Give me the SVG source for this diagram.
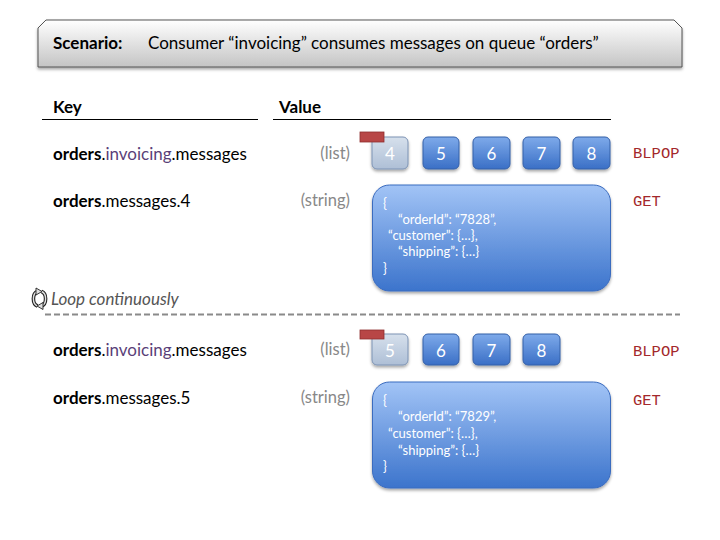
<svg xmlns="http://www.w3.org/2000/svg" width="720" height="540" viewBox="0 0 720 540">
<defs>
<linearGradient id="gHead" x1="0" y1="0" x2="0" y2="1"><stop offset="0" stop-color="#ffffff"/><stop offset="1" stop-color="#c4c4c4"/></linearGradient>
<linearGradient id="gItem" x1="0" y1="0" x2="0" y2="1"><stop offset="0" stop-color="#7eaaea"/><stop offset="1" stop-color="#3a6fc6"/></linearGradient>
<linearGradient id="gDone" x1="0" y1="0" x2="0" y2="1"><stop offset="0" stop-color="#d6e0ec"/><stop offset="1" stop-color="#aebfd6"/></linearGradient>
<linearGradient id="gStr" x1="0" y1="0" x2="0" y2="1"><stop offset="0" stop-color="#a2c4f6"/><stop offset="1" stop-color="#3c74cc"/></linearGradient>
<filter id="sh" x="-10%" y="-10%" width="130%" height="140%"><feDropShadow dx="0" dy="2" stdDeviation="1.5" flood-color="#000" flood-opacity="0.35"/></filter>
</defs>
<style>
text{font-family:Lato,"Liberation Sans",sans-serif}
.k{font-size:17px;fill:#000}
.b{font-weight:bold}
.pur{fill:#5a3f78}
.t{font-size:16.5px;fill:#888;text-anchor:end}
.cmd{font-family:"Liberation Mono","DejaVu Sans Mono",monospace;font-size:15.5px;fill:#a3282b}
.item{fill:url(#gItem);stroke:#3560a8;stroke-width:1;filter:url(#sh)}
.done{fill:url(#gDone);stroke:#7d93b4;stroke-width:1;filter:url(#sh)}
.num{font-size:17px;fill:#fff;text-anchor:middle}
.str{fill:url(#gStr);stroke:#3b6cbf;stroke-width:1;filter:url(#sh)}
.js{font-size:13px;fill:#fff}
.tab{fill:#b84646;stroke:#8e2e2e;stroke-width:0.8}
.hl{stroke:#000;stroke-width:1.2}
</style>
<g id="scenario">
<path d="M46,20 L674,20 L682,28 L682,67 L38,67 L38,28 Z" fill="url(#gHead)" stroke="#555" stroke-width="1" filter="url(#sh)"/>
<text x="53" y="49" class="k b">Scenario:</text>
<text x="148" y="49" class="k">Consumer “invoicing” consumes messages on queue “orders”</text>
</g>
<g id="headers">
<text x="53" y="113" class="k b">Key</text>
<line x1="42" y1="119.5" x2="258" y2="119.5" class="hl"/>
<text x="279" y="113" class="k b">Value</text>
<line x1="273" y1="119.5" x2="611" y2="119.5" class="hl"/>
</g>
<g id="row1-list">
<text x="53" y="160" class="k"><tspan class="b">orders</tspan>.<tspan class="pur">invoicing</tspan>.messages</text>
<text x="350" y="159" class="t">(list)</text>
<rect x="372" y="137" width="36" height="32" rx="5" class="done"/><text x="390" y="160" class="num">4</text>
<rect x="423" y="137" width="36" height="32" rx="5" class="item"/><text x="441" y="160" class="num">5</text>
<rect x="473" y="137" width="37" height="32" rx="5" class="item"/><text x="491.5" y="160" class="num">6</text>
<rect x="523" y="137" width="37" height="32" rx="5" class="item"/><text x="541.5" y="160" class="num">7</text>
<rect x="573" y="137" width="37" height="32" rx="5" class="item"/><text x="591.5" y="160" class="num">8</text>
<rect x="360" y="132" width="24" height="10" class="tab"/>
<text x="633" y="158" class="cmd">BLPOP</text>
</g>
<g id="row1-string">
<text x="53" y="207" class="k"><tspan class="b">orders</tspan>.messages.4</text>
<text x="350" y="206" class="t">(string)</text>
<rect x="372.5" y="185" width="238" height="106" rx="17" class="str"/>
<text x="383" y="208" class="js">{</text>
<text x="398" y="224" class="js">“orderId”: “7828”,</text>
<text x="388" y="240" class="js">“customer”: {…},</text>
<text x="398" y="256" class="js">“shipping”: {…}</text>
<text x="383" y="273" class="js">}</text>
<text x="633" y="206" class="cmd">GET</text>
</g>
<g id="loop">
<g fill="none" stroke-linecap="butt">
<path d="M37.5,291.5 A5.5,7.5 0 0 0 37.5,306" stroke="#222" stroke-width="3.6"/>
<path d="M41.5,291.5 A5.5,7.5 0 0 1 41.5,306" stroke="#222" stroke-width="3.6"/>
<path d="M37.5,291.5 A5.5,7.5 0 0 0 37.5,306" stroke="#ddd" stroke-width="1.4"/>
<path d="M41.5,291.5 A5.5,7.5 0 0 1 41.5,306" stroke="#ddd" stroke-width="1.4"/>
</g>
<g fill="#ddd" stroke="#222" stroke-width="0.9"><path d="M36,288 L42,291.5 L36,295 Z"/><path d="M43,302.5 L37,306 L43,309.5 Z"/></g>
<text x="51" y="305" font-size="17" font-style="italic" fill="#555">Loop continuously</text>
</g>
<g id="connectors">
<line x1="45" y1="314.5" x2="680" y2="314.5" stroke="#8a8a8a" stroke-width="2" stroke-dasharray="6,3"/>
</g>
<g id="row2-list">
<text x="53" y="356" class="k"><tspan class="b">orders</tspan>.<tspan class="pur">invoicing</tspan>.messages</text>
<text x="350" y="355" class="t">(list)</text>
<rect x="372" y="334" width="36" height="31" rx="5" class="done"/><text x="390" y="357" class="num">5</text>
<rect x="423" y="334" width="36" height="31" rx="5" class="item"/><text x="441" y="357" class="num">6</text>
<rect x="473" y="334" width="37" height="31" rx="5" class="item"/><text x="491.5" y="357" class="num">7</text>
<rect x="523" y="334" width="37" height="31" rx="5" class="item"/><text x="541.5" y="357" class="num">8</text>
<rect x="360" y="330" width="24" height="9" class="tab"/>
<text x="633" y="356" class="cmd">BLPOP</text>
</g>
<g id="row2-string">
<text x="53" y="404" class="k"><tspan class="b">orders</tspan>.messages.5</text>
<text x="350" y="403" class="t">(string)</text>
<rect x="372.5" y="382" width="238" height="106" rx="17" class="str"/>
<text x="383" y="405" class="js">{</text>
<text x="398" y="421" class="js">“orderId”: “7829”,</text>
<text x="388" y="438" class="js">“customer”: {…},</text>
<text x="398" y="455" class="js">“shipping”: {…}</text>
<text x="383" y="471" class="js">}</text>
<text x="633" y="405" class="cmd">GET</text>
</g>
</svg>
